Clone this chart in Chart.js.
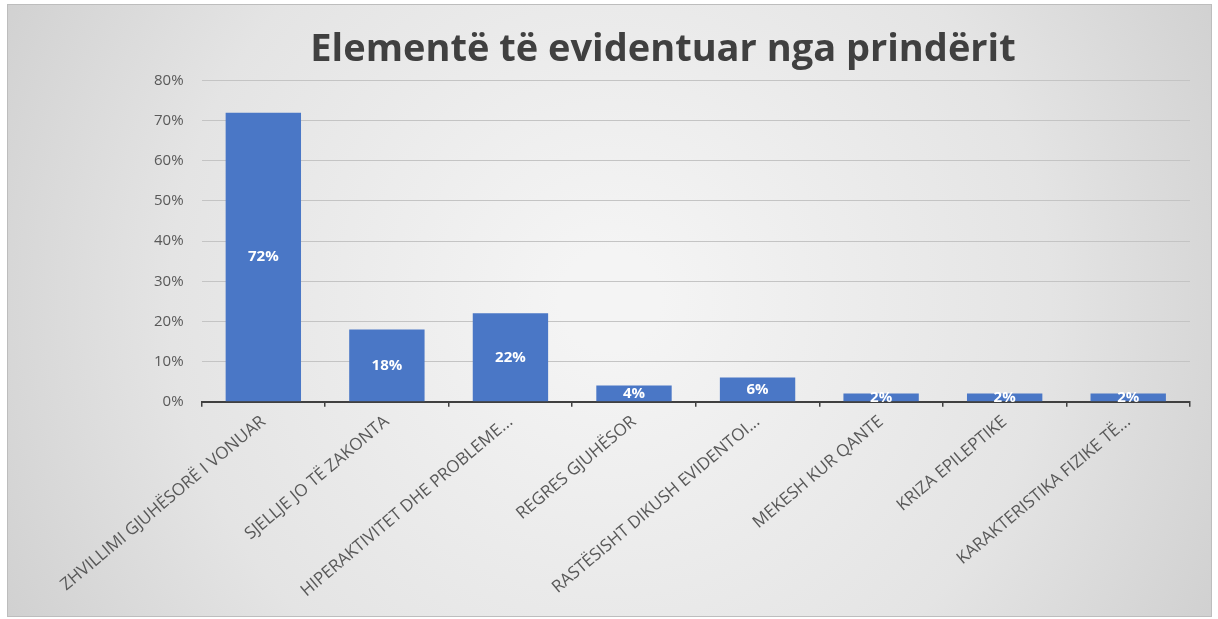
<!DOCTYPE html>
<html><head><meta charset="utf-8">
<script src="https://cdn.jsdelivr.net/npm/chart.js@4"></script>
<style>html,body{margin:0;padding:0;background:#fff}#wrap{width:1218px;height:619px}</style>
</head><body><div id="wrap"><canvas id="c" width="1218" height="619"></canvas></div>
<script>
const categories = ["ZHVILLIMI GJUHËSORË I VONUAR","SJELLJE JO TË ZAKONTA","HIPERAKTIVITET DHE PROBLEME...","REGRES GJUHËSOR","RASTËSISHT DIKUSH EVIDENTOI...","MEKESH KUR QANTE","KRIZA EPILEPTIKE","KARAKTERISTIKA FIZIKE TË..."];
const values = [72,18,22,4,6,2,2,2];
const yTicks = [0,10,20,30,40,50,60,70,80];

const bgPlugin = {
  id:'bg',
  beforeDraw(chart){
    const ctx = chart.ctx;
    ctx.save();
    ctx.fillStyle='#fff';
    ctx.fillRect(0,0,chart.width,chart.height);
    const x0=7,y0=4,x1=1212,y1=617;
    const g = ctx.createRadialGradient(610,300,50,610,300,700);
    g.addColorStop(0,'#f4f4f4');
    g.addColorStop(0.6,'#e4e4e4');
    g.addColorStop(1,'#cfcfcf');
    ctx.fillStyle=g;
    ctx.fillRect(x0,y0,x1-x0,y1-y0);
    ctx.strokeStyle='#bdbdbd';
    ctx.lineWidth=1;
    ctx.strokeRect(x0+0.5,y0+0.5,x1-x0-1,y1-y0-1);
    ctx.restore();
  }
};
const labelPlugin = {
  id:'vals',
  afterDatasetsDraw(chart){
    const ctx=chart.ctx;
    const meta=chart.getDatasetMeta(0);
    ctx.save();
    ctx.fillStyle='#ffffff';
    ctx.font='bold 15px "Open Sans", sans-serif';
    ctx.textAlign='center';
    ctx.textBaseline='middle';
    meta.data.forEach((bar,i)=>{
      const y=(bar.y+bar.base)/2;
      ctx.fillText(values[i]+'%', bar.x, y);
    });
    ctx.restore();
  }
};

new Chart(document.getElementById('c'),{
  type:'bar',
  data:{labels:categories,datasets:[{data:values,backgroundColor:'#4a77c6',borderWidth:0,categoryPercentage:1,barPercentage:0.61}]},
  options:{
    responsive:false,animation:false,
    layout:{padding:{left:136,right:28,top:27,bottom:13}},
    plugins:{
      legend:{display:false},tooltip:{enabled:false},
      title:{display:true,text:'Elementë të evidentuar nga prindërit',color:'#404040',font:{family:'"Open Sans", sans-serif',size:38,weight:'bold'},padding:{top:0,bottom:8}}
    },
    scales:{
      y:{min:0,max:80,afterBuildTicks(s){s.ticks=yTicks.map(v=>({value:v}));},
        ticks:{callback:v=>v+'%',color:'#595959',font:{family:'"Open Sans", sans-serif',size:15},padding:18},
        grid:{color:'#c4c4c4',lineWidth:1,drawTicks:false},border:{display:false}},
      x:{ticks:{color:'#595959',font:{family:'"Open Sans", sans-serif',size:17},minRotation:40,maxRotation:40,autoSkip:false,padding:5},
        grid:{drawOnChartArea:false,drawTicks:true,tickLength:5,color:'#404040',lineWidth:1.5},
        border:{display:true,color:'#404040',width:2}}
    }
  },
  plugins:[bgPlugin,labelPlugin]
});
</script></body></html>
